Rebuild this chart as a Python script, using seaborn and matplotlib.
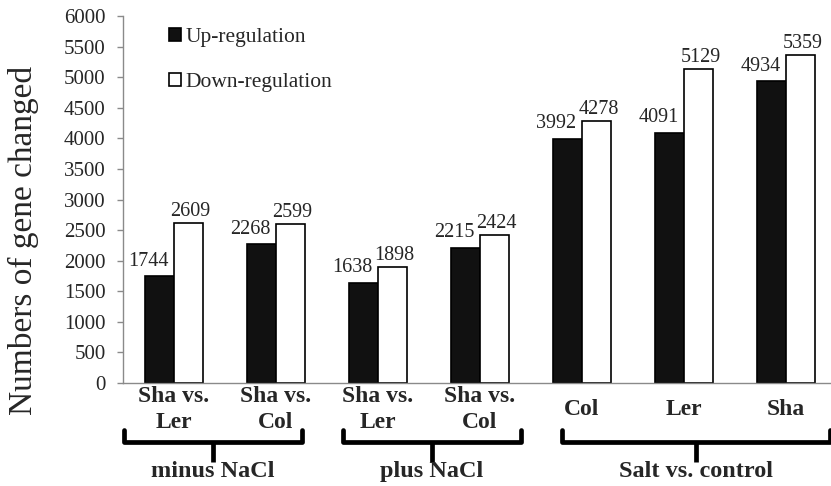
import pandas as pd
import matplotlib.pyplot as plt
import matplotlib.transforms as mtrans
import seaborn as sns

# data
categories = ["Sha vs.\nLer", "Sha vs.\nCol", "Sha vs.\nLer", "Sha vs.\nCol", "Col", "Ler", "Sha"]
up_reg = [1744, 2268, 1638, 2215, 3992, 4091, 4934]
down_reg = [2609, 2599, 1898, 2424, 4278, 5129, 5359]
groups = ["minus NaCl", "plus NaCl", "Salt vs. control"]
group_members = [[0, 1], [2, 3], [4, 5, 6]]

# brace extents in category units (layout only)
brace_spans = [(-0.49, 1.25), (1.66, 3.40), (3.80, 6.43)]

sns.set_style("white")
plt.rcParams['font.family'] = ['Liberation Serif', 'DejaVu Serif']

df = pd.DataFrame({
    'pos': list(range(len(categories))) * 2,
    'count': up_reg + down_reg,
    'reg': ['Up-regulation'] * len(up_reg) + ['Down-regulation'] * len(down_reg),
})

fig = plt.figure(figsize=(8.31, 4.86), dpi=100)
ax = fig.add_axes([123 / 831, 1 - 383 / 486, (837 - 123) / 831, (383 - 16) / 486])

sns.barplot(data=df, x='pos', y='count', hue='reg',
            palette={'Up-regulation': '#111111', 'Down-regulation': 'white'},
            edgecolor='black', linewidth=1.2, width=0.57, ax=ax, legend=True)

gray = '#8a8a8a'
ax.set_ylim(0, 6000)
ax.set_xlim(-0.5, 6.5)
ax.set_yticks(range(0, 6001, 500))
ax.tick_params(axis='y', labelsize=15, length=4.5, width=1, color=gray, direction='out',
               pad=8, left=True)
ax.set_xticks(range(len(categories)))
ax.set_xticklabels(categories, fontweight='bold', fontsize=17, va='center', linespacing=1.3)
ax.tick_params(axis='x', which='major', length=0, pad=19)
ax.set_xticks([i - 0.5 for i in range(len(categories) + 1)], minor=True)
ax.tick_params(axis='x', which='minor', length=4, width=1, color=gray, direction='out')
ax.set_xlabel('')
ax.set_ylabel('')
for s in ['top', 'right']:
    ax.spines[s].set_visible(False)
for s in ['left', 'bottom']:
    ax.spines[s].set_color(gray)
    ax.spines[s].set_linewidth(1)

# value labels
offsets = [(-8, 7.5), (1.5, 5)]
for cont, vals, (dx, dy) in zip(ax.containers, [up_reg, down_reg], offsets):
    for bar, v in zip(cont, vals):
        ax.annotate(f'{v}', (bar.get_x() + bar.get_width() / 2, bar.get_height()),
                    xytext=(dx, dy), textcoords='offset points',
                    ha='center', va='baseline', fontsize=14.5)

leg = ax.legend(loc='upper left', bbox_to_anchor=(0.064, 0.967), frameon=False,
                fontsize=15.5, handlelength=0.55, handleheight=0.55, handletextpad=0.25,
                labelspacing=1.2, borderpad=0, borderaxespad=0)

fig.text(23 / 831, 1 - 240 / 486, 'Numbers of gene changed', rotation=90,
         ha='center', va='center', fontsize=24)

# braces and group labels
trans = mtrans.blended_transform_factory(ax.transData, fig.transFigure)
y_top = 1 - 430 / 486
y_line = 1 - 442 / 486
y_tip = 1 - 462 / 486
for name, (x0, x1) in zip(groups, brace_spans):
    xm = (x0 + x1) / 2
    ax.plot([x0, x0, x1, x1], [y_top, y_line, y_line, y_top], color='black', lw=3.4,
            transform=trans, clip_on=False, solid_joinstyle='round', solid_capstyle='round')
    ax.plot([xm, xm], [y_line, y_tip], color='black', lw=3.4,
            transform=trans, clip_on=False, solid_capstyle='butt')
    ax.text(xm, 1 - 471 / 486, name, transform=trans, ha='center', va='center',
            fontsize=17.5, fontweight='bold')

fig.savefig('out.png', dpi=100)
